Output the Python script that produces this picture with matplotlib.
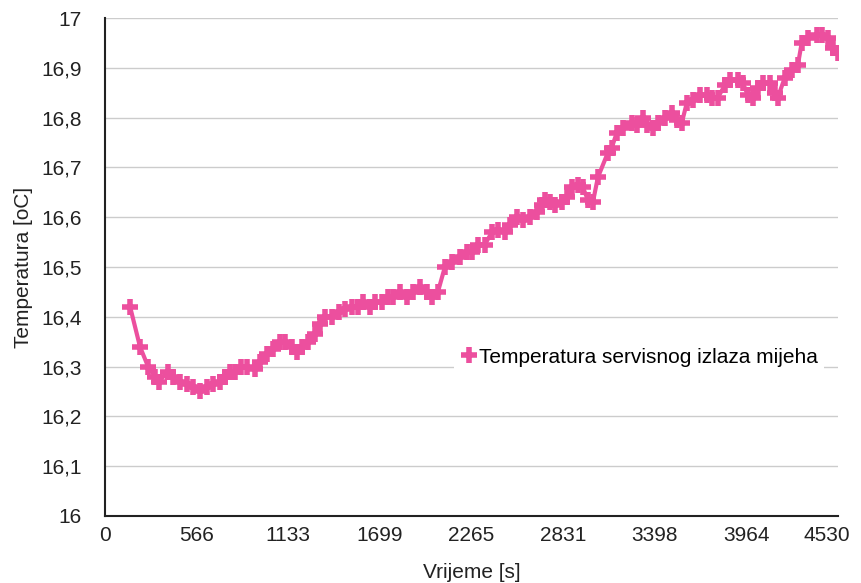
import matplotlib
matplotlib.use('Agg')
import matplotlib.pyplot as plt
import matplotlib.transforms as mtransforms
from matplotlib.ticker import FuncFormatter

plt.rcParams['font.family'] = ['Liberation Sans', 'DejaVu Sans']

# time [s] and temperature [oC]
vrijeme = [155, 216, 266, 309, 334, 389, 420, 464, 507, 544, 587, 630, 667, 711,
           742, 772, 803, 840, 877, 927, 958, 1001, 1038, 1081, 1112, 1156, 1187,
           1217, 1254, 1298, 1329, 1360, 1403, 1446, 1483, 1526, 1564, 1594, 1638,
           1669, 1712, 1749, 1780, 1823, 1866, 1903, 1947, 1990, 2021, 2058, 2101,
           2144, 2194, 2237, 2268, 2305, 2348, 2392, 2429, 2472, 2503, 2546, 2583,
           2627, 2670, 2701, 2719, 2750, 2781, 2824, 2855, 2886, 2923, 2954, 2985,
           3016, 3047, 3109, 3133, 3164, 3201, 3257, 3288, 3325, 3350, 3387, 3418,
           3461, 3504, 3535, 3566, 3597, 3634, 3677, 3720, 3752, 3788, 3832, 3863,
           3912, 3943, 3974, 4005, 4036, 4066, 4110, 4141, 4159, 4202, 4246, 4283,
           4307, 4345, 4400, 4431, 4468, 4499, 4530]
temperatura = [16.42, 16.34, 16.30, 16.28, 16.27, 16.29, 16.28, 16.27, 16.265, 16.26,
               16.25, 16.26, 16.265, 16.27, 16.28, 16.29, 16.29, 16.30, 16.30, 16.295,
               16.31, 16.325, 16.335, 16.35, 16.35, 16.34, 16.33, 16.34, 16.35, 16.365,
               16.385, 16.40, 16.40, 16.41, 16.415, 16.42, 16.42, 16.43, 16.42, 16.43,
               16.43, 16.44, 16.44, 16.45, 16.44, 16.45, 16.46, 16.45, 16.44, 16.45,
               16.50, 16.51, 16.52, 16.53, 16.53, 16.545, 16.545, 16.57, 16.575, 16.57,
               16.585, 16.60, 16.595, 16.60, 16.61, 16.625, 16.635, 16.63, 16.625, 16.63,
               16.64, 16.66, 16.665, 16.66, 16.635, 16.63, 16.68, 16.73, 16.74, 16.77,
               16.78, 16.79, 16.785, 16.80, 16.785, 16.78, 16.79, 16.80, 16.81, 16.795,
               16.79, 16.83, 16.835, 16.845, 16.845, 16.84, 16.84, 16.865, 16.875, 16.875,
               16.87, 16.845, 16.84, 16.86, 16.87, 16.87, 16.85, 16.84, 16.88, 16.895,
               16.905, 16.95, 16.96, 16.965, 16.965, 16.96, 16.94, 16.93]

x_ticks = [0, 566, 1133, 1699, 2265, 2831, 3398, 3964, 4530]
y_ticks = [16.0, 16.1, 16.2, 16.3, 16.4, 16.5, 16.6, 16.7, 16.8, 16.9, 17.0]

pink = '#EC4F9E'
fs = 15

fig = plt.figure(figsize=(8.61, 5.83), dpi=100)
ax = fig.add_axes([0.122, 0.115, 0.851, 0.854])

ax.plot(vrijeme, temperatura, color=pink, linewidth=3, marker='+',
        markersize=11, markeredgewidth=4,
        label='Temperatura servisnog izlaza mijeha')

ax.set_xlim(0, 4530)
ax.set_ylim(16, 17)
ax.set_xticks(x_ticks)
ax.set_yticks(y_ticks)


def fmt(v, pos):
    s = ('%.1f' % v).rstrip('0').rstrip('.')
    return s.replace('.', ',')


ax.yaxis.set_major_formatter(FuncFormatter(fmt))
ax.grid(axis='y', color='#cccccc', linewidth=1)
ax.set_axisbelow(True)
for side in ['top', 'right']:
    ax.spines[side].set_visible(False)
for side in ['left', 'bottom']:
    ax.spines[side].set_color('#222222')
    ax.spines[side].set_linewidth(1.5)
ax.tick_params(axis='both', length=0, labelsize=fs, colors='#222222')
ax.tick_params(axis='y', pad=17)
ax.tick_params(axis='x', pad=7)
# last label sits a bit to the left in the reference
last = ax.get_xticklabels()[-1]
last.set_transform(last.get_transform() +
                   mtransforms.ScaledTranslation(-8 / 72, 0, fig.dpi_scale_trans))

ax.set_xlabel('Vrijeme [s]', fontsize=fs, color='#222222', labelpad=13)
ax.set_ylabel('Temperatura [oC]', fontsize=fs, color='#222222', labelpad=6)

leg = ax.legend(loc='center left', bbox_to_anchor=(0.462, 0.319), frameon=True,
                fontsize=fs, handlelength=0.8, handletextpad=0.1,
                borderpad=0.3, numpoints=1)
leg.get_frame().set_edgecolor('none')
leg.get_frame().set_facecolor('white')
leg.get_frame().set_alpha(1)
leg.legend_handles[0].set_linestyle('none')

fig.savefig('out.png', dpi=100)
